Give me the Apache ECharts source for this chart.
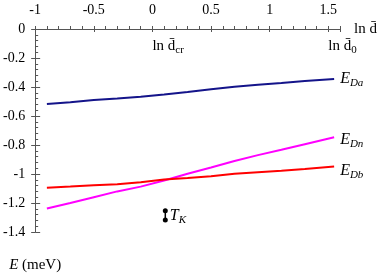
<!DOCTYPE html>
<html>
<head>
<meta charset="utf-8">
<script src="https://cdn.jsdelivr.net/npm/echarts@6/dist/echarts.min.js"></script>
<style>
  html, body { margin: 0; padding: 0; background: #fff; }
  #chart { width: 382px; height: 273px; }
</style>
</head>
<body>
<div id="chart"></div>
<script>
// ln d values along the curves
const lnD = [-0.9, -0.7, -0.5, -0.3, -0.1, 0.1, 0.3, 0.5, 0.7, 0.9, 1.1, 1.3, 1.55]
const eDa = [-0.518, -0.505, -0.49, -0.48, -0.468, -0.452, -0.435, -0.415, -0.398, -0.385, -0.372, -0.358, -0.345]
const eDn = [-1.238, -1.2, -1.16, -1.12, -1.087, -1.045, -0.998, -0.955, -0.91, -0.87, -0.833, -0.795, -0.747]
const eDb = [-1.094, -1.087, -1.078, -1.07, -1.057, -1.038, -1.027, -1.015, -0.998, -0.988, -0.978, -0.965, -0.948]
// T_K bar
const tkX = 0.11
const tkY = [-1.253, -1.318]
// marker labels below the axis
const marks = [
  { x: 0, y: -0.12, name: 'cr' },
  { x: 1.5, y: -0.12, name: '0' },
]

const FONT = 'Liberation Serif'
const chart = echarts.init(document.getElementById('chart'))

const subRich = {
  e: { fontFamily: FONT, fontStyle: 'italic', fontSize: 16, color: '#000' },
  s: { fontFamily: FONT, fontStyle: 'italic', fontSize: 11, color: '#000', padding: [9, 0, 0, 0] },
  n: { fontFamily: FONT, fontSize: 15, color: '#000' },
  c: { fontFamily: FONT, fontSize: 11, color: '#000', padding: [8, 0, 0, 0] },
}

function curve(name, values, color, sub, offsetY) {
  return {
    name,
    type: 'line',
    data: lnD.map((x, i) => [x, values[i]]),
    showSymbol: false,
    symbol: 'none',
    lineStyle: { color, width: 2 },
    endLabel: {
      show: true,
      distance: 6,
      offset: [0, offsetY],
      formatter: '{e|E}{s|' + sub + '}',
      rich: subRich,
    },
    silent: true,
    animation: false,
  }
}

const axisColor = '#555'

chart.setOption({
  animation: false,
  grid: { left: 35, top: 29, right: 42, bottom: 40 },
  xAxis: [
    {
      type: 'value',
      position: 'top',
      min: -1,
      max: 1.6,
      interval: 0.5,
      axisLine: { show: true, onZero: false, lineStyle: { color: axisColor } },
      axisTick: { show: true, inside: false, length: 3, lineStyle: { color: axisColor } },
      minorTick: { show: true, splitNumber: 5, length: 3, lineStyle: { color: axisColor } },
      splitLine: { show: false },
      axisLabel: { showMaxLabel: false, fontFamily: FONT, fontSize: 14, color: '#000', margin: 12 },
      name: '{n|ln d\u0304}',
      nameLocation: 'end',
      nameGap: 14,
      nameTextStyle: { rich: subRich },
    },
    {
      type: 'value',
      position: 'top',
      min: -1,
      max: 1.6,
      interval: 0.5,
      axisLine: { show: false, onZero: false },
      axisTick: { show: true, inside: true, length: 3, lineStyle: { color: axisColor } },
      minorTick: { show: false },
      splitLine: { show: false },
      axisLabel: { show: false },
    },
  ],
  yAxis: [
    {
      type: 'value',
      position: 'left',
      min: -1.4,
      max: 0,
      interval: 0.2,
      axisLine: { show: true, onZero: false, lineStyle: { color: axisColor } },
      axisTick: { show: true, inside: false, length: 4, lineStyle: { color: axisColor } },
      minorTick: { show: false },
      splitLine: { show: false },
      axisLabel: { fontFamily: FONT, fontSize: 14, color: '#000', margin: 10 },
      name: '{e|E} (meV)',
      nameLocation: 'start',
      nameGap: 26,
      nameTextStyle: { rich: { e: { fontFamily: FONT, fontStyle: 'italic', fontSize: 15, color: '#000' } }, fontFamily: FONT, fontSize: 15, color: '#000', align: 'center' },
    },
    {
      type: 'value',
      position: 'left',
      min: -1.4,
      max: 0,
      interval: 0.2,
      axisLine: { show: false, onZero: false },
      axisTick: { show: true, inside: true, length: 5, lineStyle: { color: axisColor } },
      minorTick: { show: true, splitNumber: 5, length: 3, lineStyle: { color: axisColor } },
      splitLine: { show: false },
      axisLabel: { show: false },
    },
  ],
  series: [
    curve('Da', eDa, '#14148a', 'Da', 0),
    curve('Dn', eDn, '#ff00ff', 'Dn', 2),
    curve('Db', eDb, '#ff0000', 'Db', 4),
    {
      type: 'line',
      data: tkY.map((y) => [tkX, y]),
      symbol: 'circle',
      symbolSize: 5,
      showSymbol: true,
      itemStyle: { color: '#000' },
      lineStyle: { color: '#000', width: 1.5 },
      label: {
        show: true,
        position: 'right',
        distance: 2,
        offset: [0, 5],
        formatter: (p) => (p.dataIndex === 0 ? '{e|T}{s|K}' : ''),
        rich: subRich,
      },
      silent: true,
    },
    {
      type: 'scatter',
      data: marks.map((m) => [m.x, m.y, m.name]),
      symbolSize: 0,
      itemStyle: { opacity: 1, color: '#000' },
      label: {
        show: true,
        position: 'right',
        distance: 0,
        color: '#000',
        opacity: 1,
        formatter: (p) => '{n|ln d\u0304}{c|' + p.data[2] + '}',
        rich: subRich,
      },
      silent: true,
    },
  ],
})
</script>
</body>
</html>
